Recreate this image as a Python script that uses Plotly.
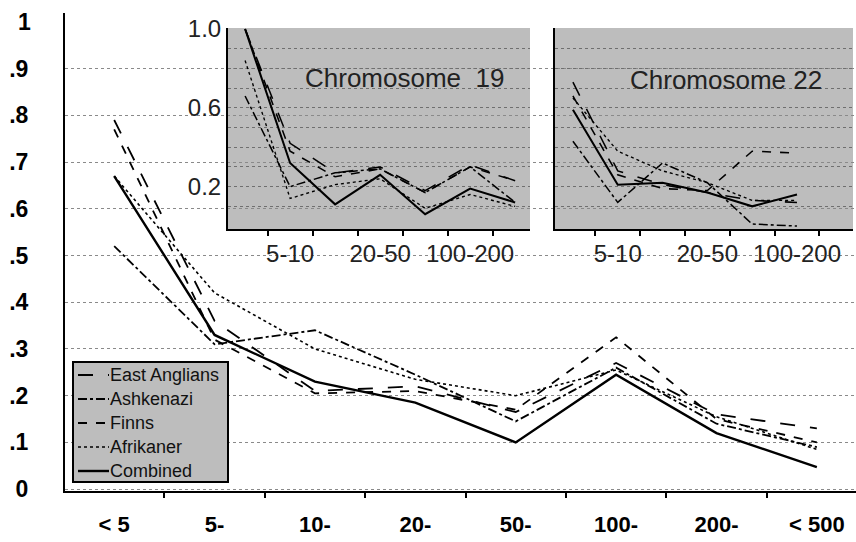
import plotly.graph_objects as go

# ---------------- data ----------------
main_categories = ["< 5", "5-", "10-", "20-", "50-", "100-", "200-", "< 500"]
east_anglians = [0.79, 0.36, 0.21, 0.22, 0.165, 0.27, 0.16, 0.13]
ashkenazi     = [0.52, 0.31, 0.34, 0.245, 0.145, 0.26, 0.14, 0.09]
finns         = [0.77, 0.32, 0.205, 0.21, 0.17, 0.325, 0.15, 0.10]
afrikaner     = [0.67, 0.42, 0.30, 0.235, 0.20, 0.255, 0.155, 0.085]
combined      = [0.67, 0.33, 0.23, 0.185, 0.10, 0.245, 0.12, 0.047]

main_y_ticks = [0, 0.1, 0.2, 0.3, 0.4, 0.5, 0.6, 0.7, 0.8, 0.9]
main_y_text = ["0", ".1", ".2", ".3", ".4", ".5", ".6", ".7", ".8", ".9"]

inset_categories = ["<5", "5-10", "10-20", "20-50", "50-100", "100-200", "200-500"]
inset_label_idx = [1, 3, 5]

chr19_east_anglians = [1.0, 0.42, 0.27, 0.30, 0.18, 0.31, 0.23]
chr19_ashkenazi     = [0.66, 0.20, 0.27, 0.29, 0.17, 0.30, 0.12]
chr19_finns         = [1.0, 0.38, 0.25, 0.29, 0.17, 0.30, 0.23]
chr19_afrikaner     = [0.84, 0.14, 0.21, 0.24, 0.09, 0.16, 0.10]
chr19_combined      = [1.0, 0.32, 0.11, 0.26, 0.06, 0.19, 0.12]

chr22_east_anglians = [0.73, 0.28, 0.21, 0.17, 0.13, 0.12]
chr22_ashkenazi     = [0.43, 0.12, 0.32, 0.22, 0.01, 0.0]
chr22_finns         = [0.66, 0.26, 0.19, 0.18, 0.38, 0.37]
chr22_afrikaner     = [0.65, 0.38, 0.28, 0.22, 0.13, 0.13]
chr22_combined      = [0.59, 0.21, 0.22, 0.17, 0.10, 0.16]

inset_y_ticks = [0.1, 0.2, 0.3, 0.4, 0.5, 0.6, 0.7, 0.8, 0.9, 1.0]
inset_y_text = ["", "0.2", "", "", "", "0.6", "", "", "", "1.0"]

# ---------------- styles ----------------
FONT = "Liberation Sans, Arial, Helvetica, sans-serif"
GRAY = "#bdbdbd"
series_style = [
    ("East Anglians", "longdash", 1.8),
    ("Ashkenazi", "dashdot", 1.8),
    ("Finns", "dash", 1.8),
    ("Afrikaner", "dot", 1.6),
    ("Combined", "solid", 2.4),
]
main_series = [east_anglians, ashkenazi, finns, afrikaner, combined]
chr19_series = [chr19_east_anglians, chr19_ashkenazi, chr19_finns, chr19_afrikaner, chr19_combined]
chr22_series = [chr22_east_anglians, chr22_ashkenazi, chr22_finns, chr22_afrikaner, chr22_combined]

W, H = 856, 542

def px_x(p):
    return p / W

def px_y(p):
    return 1 - p / H

fig = go.Figure()

for (name, dash, w), ys in zip(series_style, main_series):
    fig.add_trace(go.Scatter(x=main_categories, y=ys, mode="lines", name=name,
                             showlegend=False,
                             line=dict(color="black", dash=dash, width=w),
                             xaxis="x", yaxis="y"))

for (name, dash, w), ys in zip(series_style, chr19_series):
    fig.add_trace(go.Scatter(x=list(range(len(ys))), y=ys, mode="lines", name=name,
                             showlegend=False,
                             line=dict(color="black", dash=dash, width=w * 0.85),
                             xaxis="x2", yaxis="y2"))

for (name, dash, w), ys in zip(series_style, chr22_series):
    fig.add_trace(go.Scatter(x=list(range(len(ys))), y=ys, mode="lines", name=name,
                             showlegend=False,
                             line=dict(color="black", dash=dash, width=w * 0.85),
                             xaxis="x3", yaxis="y3"))

inset_label_text = [inset_categories[i] for i in inset_label_idx]

def inset_xaxis(domain, rng, anchor):
    return dict(domain=domain, range=rng, anchor=anchor, showgrid=False, zeroline=False,
                showline=True, linecolor="black", linewidth=2,
                tickmode="array", tickvals=inset_label_idx, ticktext=inset_label_text,
                ticks="", showticklabels=True,
                tickfont=dict(family=FONT, size=24, color="#222"),
                ticklabelstandoff=2,
                minor=dict(tickmode="array", tickvals=[i + 0.5 for i in range(len(inset_categories) - 1)],
                           ticks="outside", ticklen=5, tickcolor="black", tickwidth=1.5, showgrid=False),
                fixedrange=True)

def inset_yaxis(domain, show_labels, anchor):
    return dict(domain=domain, range=[-0.015, 1.005], anchor=anchor,
                showgrid=True, gridcolor="#6f6f6f",
                griddash="dot", gridwidth=1, zeroline=False,
                showline=True, linecolor="black", linewidth=2,
                tickmode="array", tickvals=inset_y_ticks, ticktext=inset_y_text,
                ticks="", showticklabels=show_labels,
                tickfont=dict(family=FONT, size=24, color="#222"),
                fixedrange=True)

inset_ydom = [px_y(229), px_y(28)]

fig.update_layout(
    width=W, height=H,
    margin=dict(l=0, r=0, t=0, b=0, pad=0, autoexpand=False),
    paper_bgcolor="white",
    plot_bgcolor="rgba(0,0,0,0)",
    showlegend=False,
    xaxis=dict(domain=[px_x(65), 1.0], type="category", range=[-0.49, 7.39],
               showgrid=False, zeroline=False, showline=True, linecolor="black", linewidth=2,
               ticks="outside", ticklen=5, tickcolor="black", tickwidth=1.5, tickson="boundaries",
               tickfont=dict(family=FONT, size=22, color="black", weight="bold"),
               ticklabelstandoff=13, fixedrange=True, automargin=False),
    yaxis=dict(domain=[px_y(491), px_y(13)], range=[-0.004, 1.019],
               showgrid=True, gridcolor="#8a8a8a", griddash="dot", gridwidth=1,
               zeroline=False, showline=True, linecolor="black", linewidth=2,
               tickmode="array", tickvals=main_y_ticks, ticktext=main_y_text, ticks="",
               tickfont=dict(family=FONT, size=23, color="black", weight="bold"),
               ticklabelstandoff=30, fixedrange=True, automargin=False),
    xaxis2=inset_xaxis([px_x(228), px_x(530)], [-0.38, 6.33], "y2"),
    yaxis2=inset_yaxis(inset_ydom, True, "x2"),
    xaxis3=inset_xaxis([px_x(555), px_x(853)], [-0.4, 6.25], "y3"),
    yaxis3=inset_yaxis(inset_ydom, False, "x3"),
)

# gray backgrounds for insets (behind traces)
for xa, ya in (("x2", "y2"), ("x3", "y3")):
    fig.add_shape(type="rect", xref=f"{xa} domain", yref=f"{ya} domain",
                  x0=0, x1=1, y0=0, y1=1, fillcolor=GRAY, line=dict(width=0), layer="below")

# "1" label at top of main y axis (no gridline there)
fig.add_annotation(x=0, xref="paper", y=1.0, yref="y", text="1", showarrow=False,
                   xanchor="right", xshift=33,
                   font=dict(family=FONT, size=23, color="black", weight="bold"))

fig.add_annotation(x=0.5, xref="x2 domain", y=0.75, yref="y2 domain",
                   text="Chromosome  19", showarrow=False, xanchor="center", yanchor="middle",
                   xshift=25, font=dict(family=FONT, size=26, color="#222"))
fig.add_annotation(x=0.5, xref="x3 domain", y=0.74, yref="y3 domain",
                   text="Chromosome 22", showarrow=False, xanchor="center", yanchor="middle",
                   xshift=22, font=dict(family=FONT, size=26, color="#222"))

# ---------------- legend box (drawn) ----------------
leg_left, leg_right, leg_top, leg_bottom = 73, 228, 362, 482
fig.add_shape(type="rect", xref="paper", yref="paper",
              x0=px_x(leg_left), x1=px_x(leg_right), y0=px_y(leg_bottom), y1=px_y(leg_top),
              fillcolor=GRAY, line=dict(color="black", width=2))
item_step = 24
for k, (name, dash, w) in enumerate(series_style):
    yc = leg_top + 13 + k * item_step
    fig.add_shape(type="line", xref="paper", yref="paper",
                  x0=px_x(78), x1=px_x(109), y0=px_y(yc), y1=px_y(yc),
                  line=dict(color="black", dash=dash, width=w))
    fig.add_annotation(x=px_x(109), y=px_y(yc), xref="paper", yref="paper", text=name,
                       showarrow=False, xanchor="left", yanchor="middle", xshift=-1,
                       font=dict(family=FONT, size=18, color="#111"))

fig.write_html("out.html")
